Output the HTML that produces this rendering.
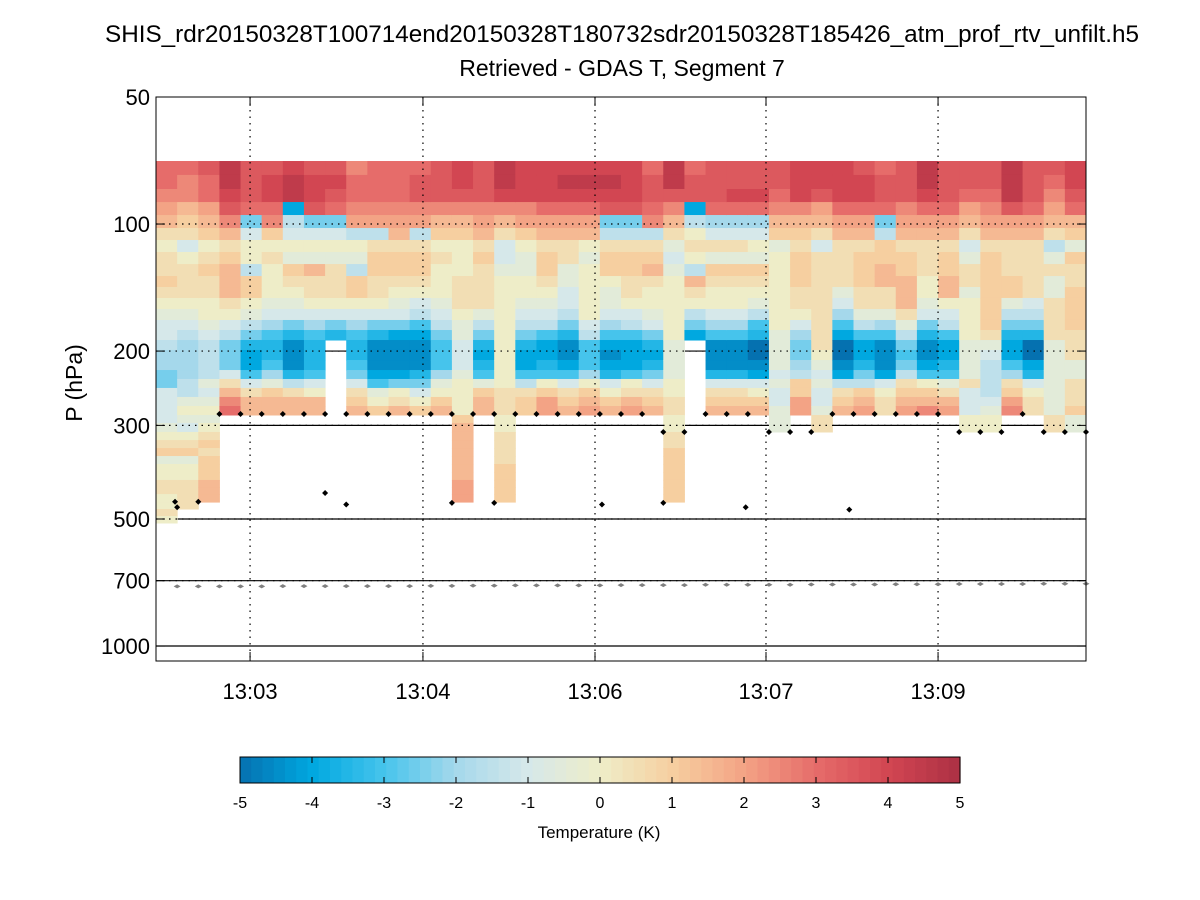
<!DOCTYPE html>
<html><head><meta charset="utf-8">
<style>
html,body{margin:0;padding:0;background:#fff;}
svg{display:block;font-family:"Liberation Sans",Arial,sans-serif;}
</style></head>
<body>
<svg id="chart" width="1200" height="900" viewBox="0 0 1200 900" xmlns="http://www.w3.org/2000/svg">
<rect x="0" y="0" width="1200" height="900" fill="#fff"/>
<text x="622" y="42" font-size="24" text-anchor="middle" textLength="1034" lengthAdjust="spacingAndGlyphs">SHIS_rdr20150328T100714end20150328T180732sdr20150328T185426_atm_prof_rtv_unfilt.h5</text>
<text x="622" y="76" font-size="23" text-anchor="middle">Retrieved - GDAS T, Segment 7</text>
<text x="0" y="0" font-size="23" text-anchor="middle" transform="translate(82,383) rotate(-90)">P (hPa)</text>
<g id="under"></g>
<g id="cells"></g>
<g id="grid"></g>
<g id="marks"></g>
<g id="axes"></g>
<g id="cbar"></g>
</svg>
<script>
// ---- data ----
const levelEdges = [70.9,76.5,82.6,88.7,95.2,102.2,109.1,116.5,124.4,132.8,141.0,149.7,159.0,168.8,178.3,188.3,198.8,210.0,221.8,232.9,244.6,256.9,269.9,283.5,296.1,311.0,325.0,339.5,354.6,370.4,386.9,404.1,420.0,436.4,455.9,473.5,491.9,511.0];
// value code: a=-5 ... k=0 ... u=+5 (0.5 K steps), '.' = missing
const columnValues = [
"qqponlkllmlkjiihggffiii"+"ijklmjkkllkklk",
"qppnmliklllkjihgggghhjk"+"jiklmjkkllll..",
"rqqonmklmllkkjihhhhjijk"+"jklmlmmmnnn...",
"ttsrpnlmnnnlkihfffilnpq"+"..............",
"rrrqfikkhmmkjhfdcceilnn"+"..............",
"rssqpmklkkkjigeddegjmnn"+"..............",
"sttchikjmlkjifdbbbdhlnn"+"..............",
"rssrfikjnllkigedddeiknn"+"..............",
"rsrqfikjlllkifd........"+"..............",
"pqqpohkjhmmkigeddefilmn"+"..............",
"qqqpohlmmllkifdbbbcejkm"+"..............",
"qqqponlmmlkjifcbbbcfkln"+"..............",
"qrrpohlmmlkihecbbbdfikm"+"..............",
"rrrpnmklkkkjihfeeegjkmn"+"..............",
"ssrpnmkkklllkjjiiijkkkk"+"mnnnnnnnooo...",
"rrrponlmlllljhfdcdejmnn"+"..............",
"ttspnliijkkkkkkkkkkklll"+"kkllllmmmmm...",
"ssspomkjjkkjihfdccehlmm"+"..............",
"sssqonlmmlkjiheccdekmoo"+"..............",
"stsqonlljjiihfdbbceilmn"+"..............",
"stsqonkjkkkkkiheeegkmno"+"..............",
"stsrfhlmmkjjigecbcdikmn"+"..............",
"sssrfhlmmllkiheccceklno"+"..............",
"qrrqphlmnlkkjifdcdfilmn"+"..............",
"ttrpnljijkkkkkkjjjjkkll"+"kkllmmmmmmm...",
"qrrchklkhnlkhfc........"+"..............",
"rrrqgiljmlkkigebbbdilmn"+"..............",
"rrsqgiljmlkkigebbbdilmn"+"..............",
"rrsqgikjmlkjhedaabcikmn"+"..............",
"rrqpnmjkkkkkkkjjjjijiij"+"jj............",
"ssspnmlmmmllkigffghmmoo"+"..............",
"ssronlilllllllllkjijiij"+"ll............",
"sssqonlllljigecaabchlmn"+"..............",
"rssqonlmmmlljheccdfhmno"+"..............",
"qrrqfhmmnnlljgebbbcikll"+"..............",
"rrrponlmmnnnljhfefhlmno"+"..............",
"ttsqonlllkkjifdbbcekmnp"+"..............",
"rrrqonlmmnnkiheccdejlno"+"..............",
"rrqonlijlljkkkkjjjjliii"+"kk............",
"rrqponlmmmmmmmljihhhhij"+"kk............",
"tttronlllmmjhfdcceglmop"+"..............",
"rrrqonlllllihfdaacdikll"+"..............",
"rqponlhjljjlllljjjjjjjj"+"ll............",
"ssrqnmjmllmmmmllljjlllm"+"jj............"
];
const blackDotTime = [0.9,1.0,2.0,3,4,5,6,7,8,9,10,11,12,13,14,15,16,17,18,19,20,21,22,23,24,25,26,27,28,29,30,31,32,33,34,35,36,37,38,39,40,41,42,43,44,8.0,9.0,14.0,16.0,21.1,24.0,27.9,32.8];
const blackDotP = [455,469,455,282,282,282,282,282,282,282,282,282,282,282,282,282,282,282,282,282,282,282,282,282,311,311,282,282,282,311,311,311,282,282,282,282,282,282,311,311,311,282,311,311,311,434,462,458,458,462,458,469,475];
const grayDotP = [722,722,722,722,722,721,721,721,721,721,721,721,720,720,719,719,718,718,718,718,718,717,717,717,717,716,716,716,716,716,715,715,715,715,714,714,714,713,713,713,713,712,712,712];
const yTicks = [50,100,200,300,500,700,1000];
const xTickPos = [4.45,12.63,20.77,28.86,37.0];
const xTickLabels = ["13:03","13:04","13:06","13:07","13:09"];
const cbTicks = [-5,-4,-3,-2,-1,0,1,2,3,4,5];
// ---- scales ----
const PX0=156, PX1=1086, PY0=97, PY1=661, NCOL=44;
const xOf = t => PX0 + (PX1-PX0)*t/NCOL;
const yOf = p => PY0 + 422*Math.log10(p/50);
const stops=[[-5,[5,113,176]],[-4,[0,168,224]],[-3,[70,196,236]],[-2,[165,216,235]],[-1,[214,232,234]],[0,[238,237,200]],[1,[246,207,160]],[2,[243,163,133]],[3,[230,108,106]],[4,[210,70,82]],[5,[172,48,68]]];
function color(v){
  v=Math.max(-5,Math.min(5,v));
  for(let i=0;i<stops.length-1;i++){
    const [a,ca]=stops[i],[b,cb]=stops[i+1];
    if(v<=b){const f=(v-a)/(b-a);return 'rgb('+ca.map((c,k)=>Math.round(c+(cb[k]-c)*f)).join(',')+')';}
  }
  return 'rgb(172,48,68)';
}
const NS='http://www.w3.org/2000/svg';
function mk(tag,attrs,parent){const e=document.createElementNS(NS,tag);for(const k in attrs)e.setAttribute(k,attrs[k]);parent.appendChild(e);return e;}
const under=document.getElementById('under'),cells=document.getElementById('cells'),grid=document.getElementById('grid'),marks=document.getElementById('marks'),axes=document.getElementById('axes'),cbar=document.getElementById('cbar');
yTicks.slice(1).forEach(p=>{
  const l=mk('line',{x1:PX0,x2:PX1,y1:yOf(p),y2:yOf(p),stroke:'#000','stroke-width':1.2},under);
  
  
});
columnValues.forEach((s,ci)=>{
  const x0=xOf(ci),x1=xOf(ci+1);
  for(let r=0;r<levelEdges.length-1;r++){
    const ch=s[r]; if(!ch||ch==='.') continue;
    const v=(ch.charCodeAt(0)-97)*0.5-5;
    const y0=yOf(levelEdges[r]),y1=yOf(levelEdges[r+1]);
    const rc=mk('rect',{x:x0.toFixed(2),y:y0.toFixed(2),width:(x1-x0+0.5).toFixed(2),height:(y1-y0+0.5).toFixed(2),fill:color(v)},cells);
    
    
  }
});
yTicks.slice(1,-1).forEach(p=>{
  const l=mk('line',{x1:PX0,x2:PX1,y1:yOf(p),y2:yOf(p),stroke:'#000','stroke-width':1.2,'stroke-dasharray':'1.5,5'},grid);
  
  
});
xTickPos.forEach(t=>{
  const l=mk('line',{x1:xOf(t),x2:xOf(t),y1:PY0,y2:PY1,stroke:'#000','stroke-width':1.2,'stroke-dasharray':'1.5,5'},grid);
  
  
});
grayDotP.forEach((p,i)=>{
  const x=xOf(i+1),y=yOf(p);
  const g=mk('path',{d:`M${x-3.5},${y}L${x},${y-2}L${x+3.5},${y}L${x},${y+2}Z`,fill:'#808080'},marks);
  
  
});
blackDotTime.forEach((t,i)=>{
  const x=xOf(t),y=yOf(blackDotP[i]);
  const g=mk('path',{d:`M${x-3},${y}L${x},${y-3}L${x+3},${y}L${x},${y+3}Z`,fill:'#000'},marks);
  
  
});
const fr=mk('rect',{x:PX0,y:PY0,width:PX1-PX0,height:PY1-PY0,fill:'none',stroke:'#000','stroke-width':1},axes);


yTicks.forEach(p=>{
  const y=yOf(p);
  mk('line',{x1:PX0,x2:PX0+9,y1:y,y2:y,stroke:'#000'},axes);
  mk('line',{x1:PX1-9,x2:PX1,y1:y,y2:y,stroke:'#000'},axes);
  const t=mk('text',{x:150,y:y+8,'font-size':22,'text-anchor':'end'},axes);
  t.textContent=p;
  
  
});
xTickPos.forEach((tp,i)=>{
  const x=xOf(tp);
  mk('line',{x1:x,x2:x,y1:PY1,y2:PY1-9,stroke:'#000'},axes);
  mk('line',{x1:x,x2:x,y1:PY0,y2:PY0+9,stroke:'#000'},axes);
  const t=mk('text',{x:x,y:699,'font-size':22,'text-anchor':'middle'},axes);
  t.textContent=xTickLabels[i];
  
  
});
const CB0=240,CB1=960,CBY0=757,CBY1=783;
const NSEG=64;
for(let i=0;i<NSEG;i++){
  const v=-5+10*(i+0.5)/NSEG;
  const r=mk('rect',{x:CB0+(CB1-CB0)*i/NSEG,y:CBY0,width:(CB1-CB0)/NSEG+0.6,height:CBY1-CBY0,fill:color(v)},cbar);
  
  
}
const cbf=mk('rect',{x:CB0,y:CBY0,width:CB1-CB0,height:CBY1-CBY0,fill:'none',stroke:'#000'},cbar);


cbTicks.forEach(v=>{
  const x=CB0+(CB1-CB0)*(v+5)/10;
  mk('line',{x1:x,x2:x,y1:CBY0,y2:CBY0+6,stroke:'#000'},cbar);
  mk('line',{x1:x,x2:x,y1:CBY1,y2:CBY1-6,stroke:'#000'},cbar);
  const t=mk('text',{x:x,y:808,'font-size':16,'text-anchor':'middle'},cbar);
  t.textContent=v;
  
  
});
const cbt=mk('text',{x:599,y:838,'font-size':17,'text-anchor':'middle'},cbar);
cbt.textContent='Temperature (K)';


</script>
</body></html>
